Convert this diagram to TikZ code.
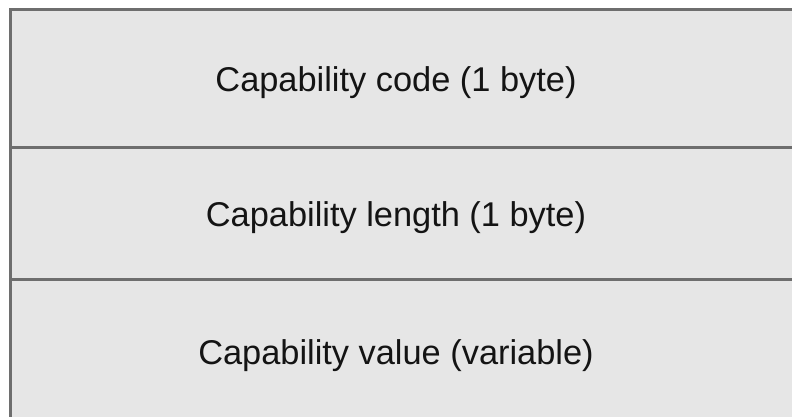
\documentclass[tikz,border=0pt]{standalone}
\usepackage{fontspec}
\setmainfont{Liberation Sans}
\definecolor{fieldfill}{HTML}{E6E6E6}
\definecolor{rulegray}{HTML}{6E6E6E}
\definecolor{inkgray}{HTML}{141414}
\begin{document}
\begin{tikzpicture}[x=1bp,y=1bp,
  fieldtext/.style={font=\fontsize{34.5}{40}\selectfont, text=inkgray, inner sep=0pt, anchor=base},
  divider/.style={draw=rulegray, line width=3bp}]
\useasboundingbox (0,0) rectangle (792,416);
\begin{scope}
\clip (0,0) rectangle (792,416);
\fill[fieldfill] (10,406) rectangle (810,-10);
\draw[divider] (810,406) -- (10,406) -- (10,-10);
\draw[divider] (10,269) -- (810,269);
\draw[divider] (10,137) -- (810,137);
\end{scope}
\node[fieldtext] (code) at (396,325) {Capability code (1 byte)};
\node[fieldtext] (length) at (396,190) {Capability length (1 byte)};
\node[fieldtext] (value) at (396,52) {Capability value (variable)};
\end{tikzpicture}
\end{document}
